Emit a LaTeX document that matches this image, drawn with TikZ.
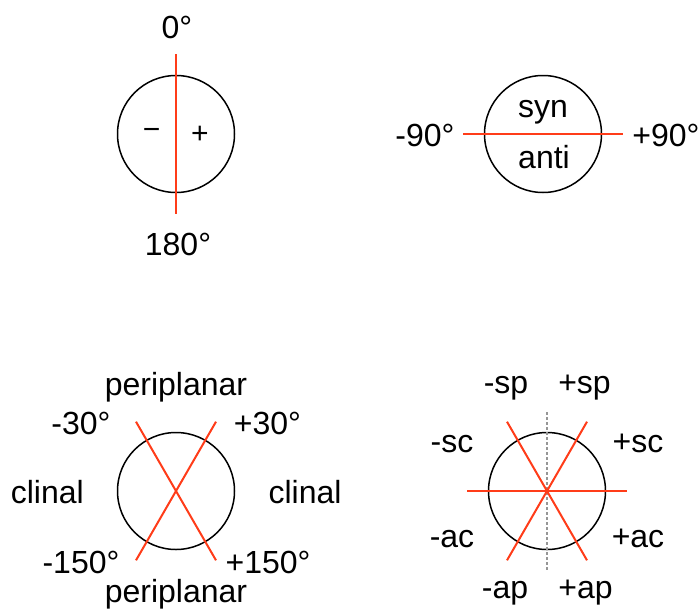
\documentclass[tikz,border=0pt]{standalone}
\usepackage{fontspec}
\setmainfont{Liberation Sans}
\definecolor{myred}{RGB}{255,60,25}
\definecolor{mygray}{RGB}{150,150,150}
\begin{document}
\begin{tikzpicture}[x=1pt,y=-1pt,
  ring/.style={circle,draw=black,line width=1.5pt,minimum size=117pt,inner sep=0pt},
  redline/.style={draw=myred,line width=2pt},
  axisline/.style={draw=mygray,line width=1.3pt,dash pattern=on 3pt off 2pt},
  lab/.style={anchor=base,inner sep=0pt,font=\fontsize{32}{38}\selectfont},
  sign/.style={inner sep=0pt,font=\fontsize{30}{34}\selectfont}]
\useasboundingbox (0,0) rectangle (700,610);

% ---- top left ----
\node[ring] (c1) at (176,134) {};
\coordinate (c1n) at (176,54);
\coordinate (c1s) at (176,214);
\draw[redline] (c1n) -- (c1s);
\node[sign] (minus) at (151.7,134) {−};
\node[sign] (plus) at (200,135) {+};
\node[lab] (l0) at (177,38) {0°};
\node[lab] (l180) at (178,255) {180°};

% ---- top right ----
\node[ring] (c2) at (543,134) {};
\coordinate (c2w) at (463,134);
\coordinate (c2e) at (623,134);
\draw[redline] (c2w) -- (c2e);
\node[lab] (lm90) at (425,146) {-90°};
\node[lab] (lp90) at (666,146) {+90°};
\node[lab] (syn) at (543,117) {syn};
\node[lab] (anti) at (544,168) {anti};

% ---- bottom left ----
\node[ring] (c3) at (176,491) {};
\coordinate (c3a) at (136,421.7);
\coordinate (c3b) at (216,560.3);
\coordinate (c3c) at (216,421.7);
\coordinate (c3d) at (136,560.3);
\draw[redline] (c3a) -- (c3b);
\draw[redline] (c3c) -- (c3d);
\node[lab] (pt) at (176,395) {periplanar};
\node[lab] (m30) at (81,434) {-30°};
\node[lab] (p30) at (267.5,434) {+30°};
\node[lab] (clL) at (47.3,503) {clinal};
\node[lab] (clR) at (305,503) {clinal};
\node[lab] (m150) at (81,573) {-150°};
\node[lab] (p150) at (268,573) {+150°};
\node[lab] (pb) at (176,602) {periplanar};

% ---- bottom right ----
\node[ring] (c4) at (547,491) {};
\coordinate (c4n) at (547,412);
\coordinate (c4s) at (547,571);
\draw[axisline] (c4n) -- (c4s);
\coordinate (c4w) at (467,491);
\coordinate (c4e) at (627,491);
\coordinate (c4a) at (507,421.7);
\coordinate (c4b) at (587,560.3);
\coordinate (c4c) at (587,421.7);
\coordinate (c4d) at (507,560.3);
\draw[redline] (c4w) -- (c4e);
\draw[redline] (c4a) -- (c4b);
\draw[redline] (c4c) -- (c4d);
\node[lab] (msp) at (506,393) {-sp};
\node[lab] (psp) at (584.5,393) {+sp};
\node[lab] (msc) at (452,452) {-sc};
\node[lab] (psc) at (638,452) {+sc};
\node[lab] (mac) at (452,547) {-ac};
\node[lab] (pac) at (638,547) {+ac};
\node[lab] (map) at (505,598) {-ap};
\node[lab] (pap) at (585.5,598) {+ap};
\end{tikzpicture}
\end{document}
